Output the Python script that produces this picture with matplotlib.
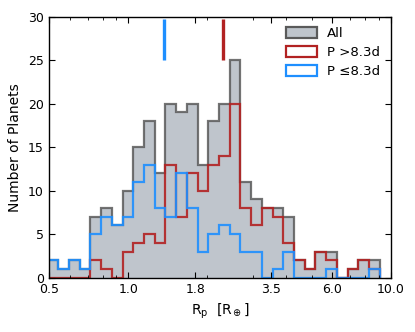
import numpy as np
import matplotlib
matplotlib.use("Agg")
import matplotlib.pyplot as plt
from matplotlib.ticker import FixedLocator, FixedFormatter, LogLocator, NullFormatter
from matplotlib.patches import Patch

# bin edges (log-spaced planet radii, Earth radii)
bin_lo, bin_hi, n_bins = 0.492, 9.1, 31
counts_short = [2, 1, 2, 1, 5, 7, 6, 7, 11, 13, 8, 7, 12, 8, 3, 5, 6, 5, 3, 3,
                0, 1, 3, 0, 0, 0, 1, 0, 0, 0, 1]
counts_long = [0, 0, 0, 0, 2, 1, 0, 3, 4, 5, 4, 13, 7, 12, 10, 13, 14, 20, 8, 6,
               8, 7, 4, 2, 1, 3, 2, 0, 1, 2, 1]
median_short = 1.37
median_long = 2.29
xticks = [0.5, 1.0, 1.8, 3.5, 6.0, 10.0]
xticklabels = ["0.5", "1.0", "1.8", "3.5", "6.0", "10.0"]

edges = np.logspace(np.log10(bin_lo), np.log10(bin_hi), n_bins + 1)
counts_all = np.array(counts_short) + np.array(counts_long)

fig = plt.figure(figsize=(4.15, 3.32), dpi=100)
ax = fig.add_axes([0.119, 0.1636, 0.822, 0.786])

gray_fill = "#bfc5cc"
gray_edge = "#5a5a5a"
red = "#b22222"
blue = "#1e8fff"

ax.stairs(counts_all, edges, fill=True, facecolor=gray_fill, edgecolor="none")
ax.stairs(counts_all, edges, color=gray_edge, lw=1.6, alpha=0.85)
ax.stairs(counts_long, edges, color=red, lw=1.6, alpha=0.9)
ax.stairs(counts_short, edges, color=blue, lw=1.6, alpha=0.9)

ax.plot([median_short, median_short], [25, 29.7], color=blue, lw=2.4, solid_capstyle="butt")
ax.plot([median_long, median_long], [25, 29.7], color=red, lw=2.4, solid_capstyle="butt")

ax.set_xscale("log")
ax.set_xlim(0.5, 10.0)
ax.set_ylim(0, 30)
ax.xaxis.set_major_locator(FixedLocator(xticks))
ax.xaxis.set_major_formatter(FixedFormatter(xticklabels))
ax.xaxis.set_minor_locator(LogLocator(base=10, subs=np.arange(2, 10)))
ax.xaxis.set_minor_formatter(NullFormatter())
ax.set_yticks([0, 5, 10, 15, 20, 25, 30])

ax.tick_params(which="both", direction="in", top=True, right=True, labelsize=9, pad=4)
ax.tick_params(which="major", length=4, width=0.8)
ax.tick_params(which="minor", length=2, width=0.6)
for s in ax.spines.values():
    s.set_linewidth(1.0)

ax.set_xlabel(r"R$_\mathrm{p}$  [R$_\oplus$]", fontsize=10)
ax.set_ylabel("Number of Planets", fontsize=10)

handles = [
    Patch(facecolor=gray_fill, edgecolor=gray_edge, lw=1.6, label="All"),
    Patch(facecolor="white", edgecolor=red, lw=1.6, label="P >8.3d"),
    Patch(facecolor="white", edgecolor=blue, lw=1.6, label="P \u22648.3d"),
]
ax.legend(handles=handles, loc="upper right", bbox_to_anchor=(1.0, 1.0),
          frameon=False, fontsize=9.6, handlelength=2.3, handleheight=0.9,
          handletextpad=0.8, borderaxespad=0.35, labelspacing=0.45)

fig.savefig("out.png", dpi=100)
